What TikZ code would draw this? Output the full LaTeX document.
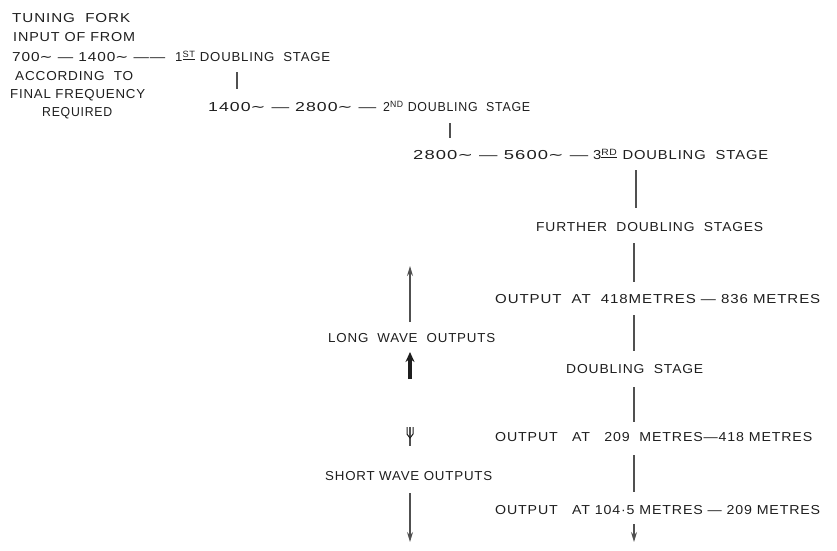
\documentclass[tikz,border=0pt]{standalone}
\usepackage{graphicx}
\usepackage{fontspec}
\setmainfont{Liberation Sans}[LetterSpace=6]
\newfontfamily\djfont{DejaVu Sans}
\usetikzlibrary{arrows.meta}
\definecolor{ink}{HTML}{1E1E1E}
\definecolor{linec}{HTML}{505050}
\newcommand{\fitw}[2]{\resizebox{#1pt}{\height}{#2}}
\newcommand{\tl}{{\djfont ∼}}
\tikzset{
  lbl/.style={inner sep=0pt, text=ink, anchor=base west, font=\fontsize{13}{15}\selectfont},
  conn/.style={draw=linec, line width=1.2pt},
  arr/.style={draw=linec, line width=1.1pt, -{Stealth[length=10pt,width=6pt]}},
  fatarr/.style={draw=ink, line width=4pt, -{Stealth[length=10pt,width=9pt]}},
  fork/.style={draw=ink, line width=1pt}
}
\begin{document}
\begin{tikzpicture}[x=1pt,y=-1pt]
\useasboundingbox (0,0) rectangle (837,550);
% left block
\node[lbl] (tf1) at (12,22.7) {\fitw{118}{TUNING\ \ FORK}};
\node[lbl] (tf2) at (13,41.7) {\fitw{122}{INPUT OF FROM}};
\node[lbl] (in1) at (12,61.7) {\fitw{153}{700\tl{} --- 1400\tl{} ------}};
\node[lbl] (st1) at (175,61.7) {\fitw{155}{1\textsuperscript{\underline{ST}} DOUBLING\ \ STAGE}};
\node[lbl] (tf3) at (15,80.7) {\fitw{118}{ACCORDING\ \ TO}};
\node[lbl] (tf4) at (10,98.7) {\fitw{135}{FINAL FREQUENCY}};
\node[lbl] (tf5) at (42,116.7) {\fitw{70}{REQUIRED}};
% second stage
\node[lbl] (f2) at (208,111.7) {\fitw{168}{1400\tl{} --- 2800\tl{} ---}};
\node[lbl] (st2) at (383,111.7) {\fitw{147}{2\textsuperscript{ND} DOUBLING\ \ STAGE}};
% third stage
\node[lbl] (f3) at (413,159.7) {\fitw{175}{2800\tl{} --- 5600\tl{} ---}};
\node[lbl] (st3) at (593,159.7) {\fitw{175}{3\textsuperscript{\underline{RD}} DOUBLING\ \ STAGE}};
% right column
\node[lbl] (fds) at (536,231.7) {\fitw{227}{FURTHER\ \ DOUBLING\ \ STAGES}};
\node[lbl] (o418) at (495,303.7) {\fitw{325}{OUTPUT\ \ AT\ \ 418METRES --- 836 METRES}};
\node[lbl] (lw) at (328,342.7) {\fitw{167}{LONG\ \ WAVE\ \ OUTPUTS}};
\node[lbl] (ds) at (566,373.7) {\fitw{137}{DOUBLING\ \ STAGE}};
\node[lbl] (o209) at (495,441.7) {\fitw{317}{OUTPUT\ \ \ AT\ \ \ 209\ \ METRES---418 METRES}};
\node[lbl] (sw) at (325,480.7) {\fitw{167}{SHORT WAVE OUTPUTS}};
\node[lbl] (o104) at (495,514.7) {\fitw{325}{OUTPUT\ \ \ AT 104\textperiodcentered 5 METRES --- 209 METRES}};
% connector end points
\coordinate (v1a) at (237,72); \coordinate (v1b) at (237,89);
\coordinate (v2a) at (450,123); \coordinate (v2b) at (450,138);
\coordinate (v3a) at (636,170); \coordinate (v3b) at (636,208);
\coordinate (v4a) at (634,243); \coordinate (v4b) at (634,282);
\coordinate (v5a) at (634,315); \coordinate (v5b) at (634,351);
\coordinate (v6a) at (634,387); \coordinate (v6b) at (634,422);
\coordinate (v7a) at (634,455); \coordinate (v7b) at (634,492);
\coordinate (v8a) at (634,524); \coordinate (v8b) at (634,542);
\coordinate (lwa) at (410,322); \coordinate (lwb) at (410,266);
\coordinate (lwc) at (410,379); \coordinate (lwd) at (410,352);
\coordinate (swa) at (410,493); \coordinate (swb) at (410,542);
\coordinate (psa) at (410,427); \coordinate (psb) at (410,446);
\coordinate (psl) at (407,427); \coordinate (psr) at (413,427);
\coordinate (psml) at (407,434); \coordinate (psmr) at (413,434);
\coordinate (psm) at (410,438);
% main chain
\draw[conn] (v1a) -- (v1b);
\draw[conn] (v2a) -- (v2b);
\draw[conn] (v3a) -- (v3b);
\draw[conn] (v4a) -- (v4b);
\draw[conn] (v5a) -- (v5b);
\draw[conn] (v6a) -- (v6b);
\draw[conn] (v7a) -- (v7b);
\draw[arr] (v8a) -- (v8b);
% long wave
\draw[arr] (lwa) -- (lwb);
\draw[fatarr] (lwc) -- (lwd);
% short wave
\draw[conn] (psa) -- (psb);
\draw[fork] (psl) -- (psml) -- (psm) -- (psmr) -- (psr);
\draw[arr] (swa) -- (swb);
\end{tikzpicture}
\end{document}
